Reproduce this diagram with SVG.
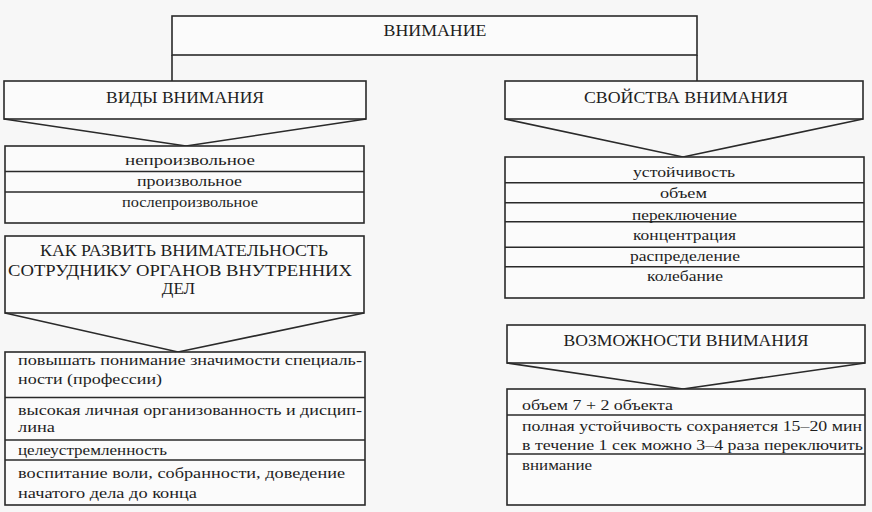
<svg xmlns="http://www.w3.org/2000/svg" width="872" height="512" viewBox="0 0 872 512">
<style>
.bx{fill:#fbfbfb;stroke:#2a2a2a;stroke-width:1.6}
.ln{fill:none;stroke:#2a2a2a;stroke-width:1.6}
text{font-family:"Liberation Serif","DejaVu Serif","Noto Serif",serif;fill:#1e1e1e}
.h{font-size:17px;text-anchor:middle}
.c{font-size:15.5px;text-anchor:middle}
.l{font-size:15.5px}
</style>
<rect width="872" height="512" fill="#f7f7f7"/>
<g id="connectors">
<line class="ln" x1="172" y1="55" x2="172" y2="81"/>
<line class="ln" x1="697" y1="55" x2="697" y2="81"/>
</g>
<g id="vnimanie">
<rect class="bx" x="172" y="16" width="525" height="39"/>
<text class="h" x="435" y="36" textLength="103" lengthAdjust="spacingAndGlyphs">ВНИМАНИЕ</text>
</g>
<g id="vidy">
<rect class="bx" x="4" y="81" width="362" height="38"/>
<polyline class="ln" points="4,119 186,146 366,119"/>
<text class="h" x="185" y="103" textLength="158" lengthAdjust="spacingAndGlyphs">ВИДЫ ВНИМАНИЯ</text>
</g>
<g id="vidy-list">
<rect class="bx" x="5" y="146" width="359" height="77"/>
<line class="ln" x1="5" y1="171.5" x2="364" y2="171.5"/>
<line class="ln" x1="5" y1="192" x2="364" y2="192"/>
<text class="c" x="190" y="165" textLength="130" lengthAdjust="spacingAndGlyphs">непроизвольное</text>
<text class="c" x="189.5" y="186" textLength="105" lengthAdjust="spacingAndGlyphs">произвольное</text>
<text class="c" x="190" y="207" textLength="136" lengthAdjust="spacingAndGlyphs">послепроизвольное</text>
</g>
<g id="kak">
<rect class="bx" x="5" y="236" width="359" height="77"/>
<polyline class="ln" points="5,313 178,352 364,313"/>
<text class="h" x="184" y="256" textLength="288" lengthAdjust="spacingAndGlyphs">КАК РАЗВИТЬ ВНИМАТЕЛЬНОСТЬ</text>
<text class="h" x="180" y="276" textLength="344" lengthAdjust="spacingAndGlyphs">СОТРУДНИКУ ОРГАНОВ ВНУТРЕННИХ</text>
<text class="h" x="178.5" y="294">ДЕЛ</text>
</g>
<g id="kak-list">
<rect class="bx" x="5" y="352" width="360" height="153"/>
<line class="ln" x1="5" y1="397.5" x2="365" y2="397.5"/>
<line class="ln" x1="5" y1="440" x2="365" y2="440"/>
<line class="ln" x1="5" y1="460" x2="365" y2="460"/>
<text class="l" x="18" y="365" textLength="344" lengthAdjust="spacingAndGlyphs">повышать понимание значимости специаль-</text>
<text class="l" x="18" y="383.5" textLength="144" lengthAdjust="spacingAndGlyphs">ности (профессии)</text>
<text class="l" x="18" y="414.5" textLength="344" lengthAdjust="spacingAndGlyphs">высокая личная организованность и дисцип-</text>
<text class="l" x="18" y="431.5" textLength="37" lengthAdjust="spacingAndGlyphs">лина</text>
<text class="l" x="18" y="454.5" textLength="149" lengthAdjust="spacingAndGlyphs">целеустремленность</text>
<text class="l" x="18" y="477.5" textLength="327" lengthAdjust="spacingAndGlyphs">воспитание воли, собранности, доведение</text>
<text class="l" x="18" y="497.5" textLength="179" lengthAdjust="spacingAndGlyphs">начатого дела до конца</text>
</g>
<g id="svoistva">
<rect class="bx" x="505" y="81" width="358" height="38"/>
<polyline class="ln" points="505,119 683,157 863,119"/>
<text class="h" x="686" y="103" textLength="204" lengthAdjust="spacingAndGlyphs">СВОЙСТВА ВНИМАНИЯ</text>
</g>
<g id="svoistva-list">
<rect class="bx" x="505" y="157" width="359" height="141"/>
<line class="ln" x1="505" y1="182.7" x2="864" y2="182.7"/>
<line class="ln" x1="505" y1="202.7" x2="864" y2="202.7"/>
<line class="ln" x1="505" y1="221.7" x2="864" y2="221.7"/>
<line class="ln" x1="505" y1="247.3" x2="864" y2="247.3"/>
<line class="ln" x1="505" y1="266.7" x2="864" y2="266.7"/>
<text class="c" x="684" y="177" textLength="102" lengthAdjust="spacingAndGlyphs">устойчивость</text>
<text class="c" x="683.5" y="198" textLength="47" lengthAdjust="spacingAndGlyphs">объем</text>
<text class="c" x="684.5" y="219.5" textLength="105" lengthAdjust="spacingAndGlyphs">переключение</text>
<text class="c" x="684.5" y="240" textLength="103" lengthAdjust="spacingAndGlyphs">концентрация</text>
<text class="c" x="685" y="261" textLength="110" lengthAdjust="spacingAndGlyphs">распределение</text>
<text class="c" x="685" y="281" textLength="76" lengthAdjust="spacingAndGlyphs">колебание</text>
</g>
<g id="vozmozhnosti">
<rect class="bx" x="507" y="325" width="358" height="38"/>
<polyline class="ln" points="507,363 683,389 865,363"/>
<text class="h" x="686" y="346" textLength="245" lengthAdjust="spacingAndGlyphs">ВОЗМОЖНОСТИ ВНИМАНИЯ</text>
</g>
<g id="vozmozhnosti-list">
<rect class="bx" x="507" y="389" width="358" height="116"/>
<line class="ln" x1="507" y1="415" x2="865" y2="415"/>
<line class="ln" x1="507" y1="454" x2="865" y2="454"/>
<text class="l" x="522" y="409.5" textLength="151" lengthAdjust="spacingAndGlyphs">объем 7 + 2 объекта</text>
<text class="l" x="522" y="430.5" textLength="340" lengthAdjust="spacingAndGlyphs">полная устойчивость сохраняется 15–20 мин</text>
<text class="l" x="522" y="449.5" textLength="341" lengthAdjust="spacingAndGlyphs">в течение 1 сек можно 3–4 раза переключить</text>
<text class="l" x="522" y="469.5" textLength="70" lengthAdjust="spacingAndGlyphs">внимание</text>
</g>
</svg>
